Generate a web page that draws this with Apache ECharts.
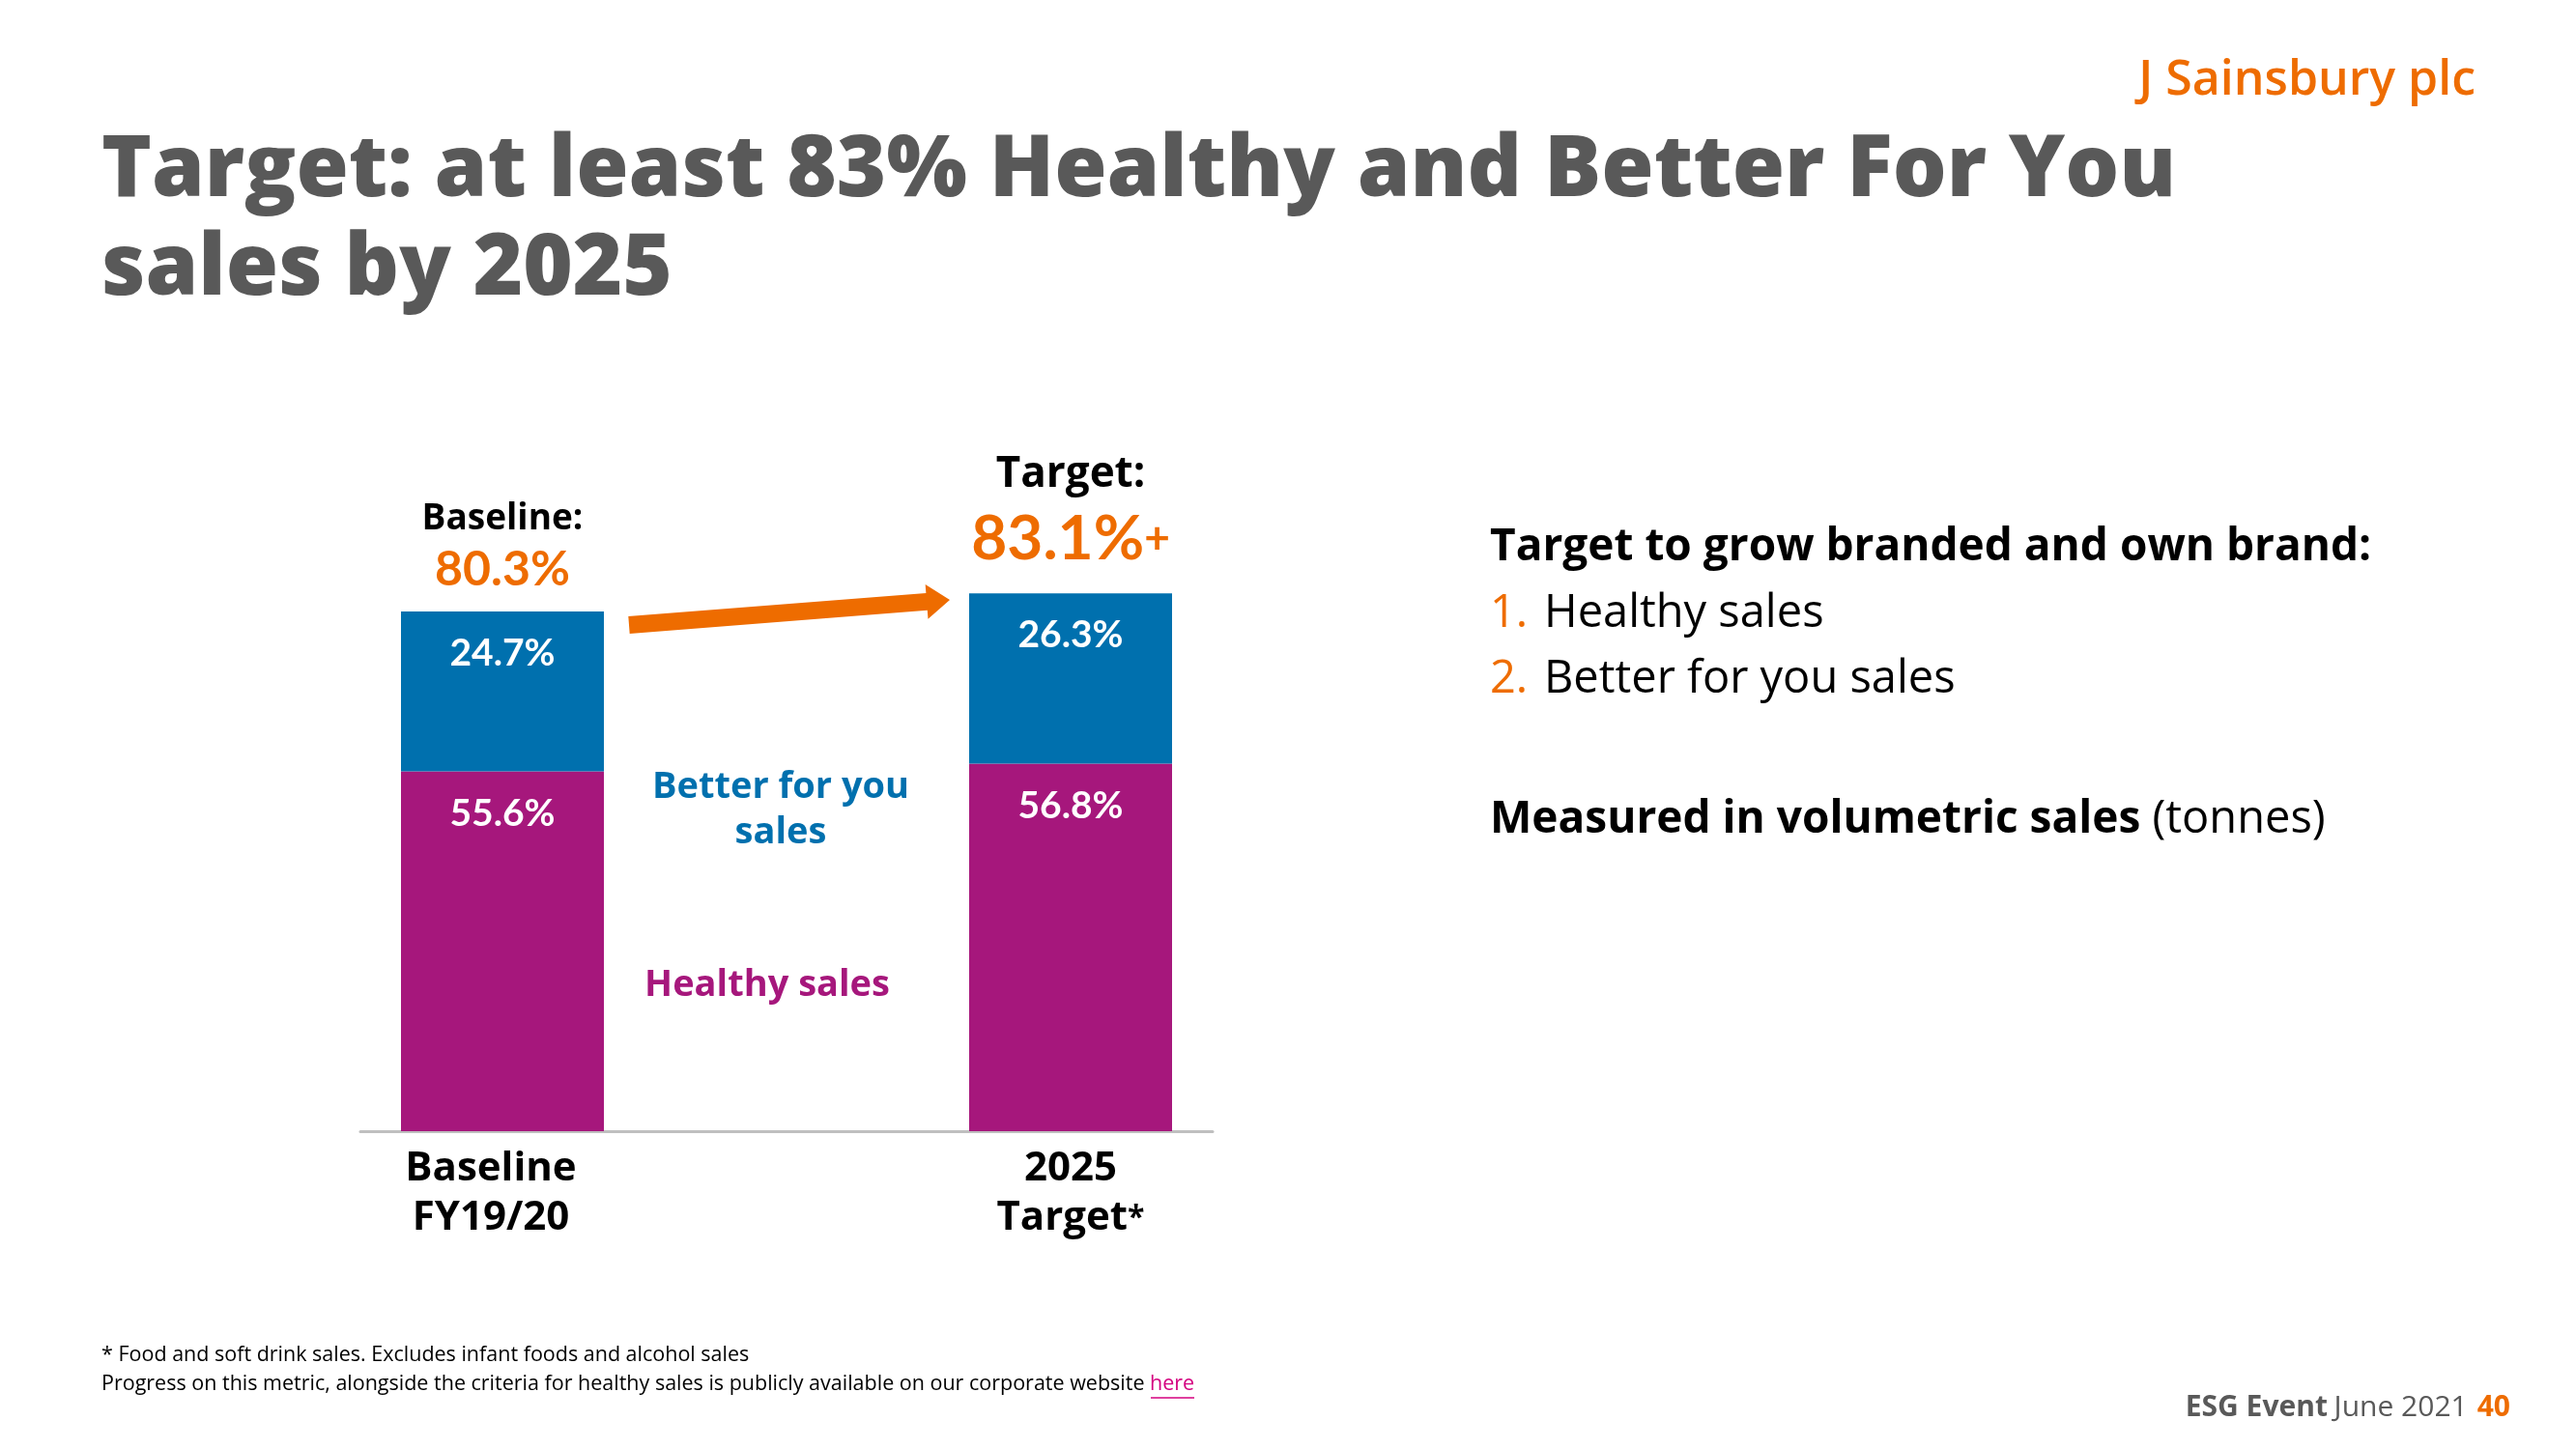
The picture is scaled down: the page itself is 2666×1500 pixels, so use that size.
<!DOCTYPE html>
<html><head><meta charset="utf-8">
<script src="https://cdn.jsdelivr.net/npm/echarts@6/dist/echarts.min.js"></script>
<style>html,body{margin:0;padding:0;background:#fff}#c{width:2666px;height:1500px}</style>
</head><body><div id="c"></div>
<script>
const categories = ['Baseline\nFY19/20', '', '2025\nTarget*'];
const healthySales = [55.6, null, 56.8];
const betterForYouSales = [24.7, null, 26.3];
const totalShare = [80.3, null, 83.1];
const totalHeadings = ['Baseline:', '', 'Target:'];
const totalSuffix = ['', '', '+'];
const seriesNames = ['Healthy sales', 'Better for you sales'];

const BLUE = '#0070AE', MAGENTA = '#A6177C', ORANGE = '#EE6C00', GREY = '#595959';
const FONT = 'Open Sans', NUM = 'Lato';
const dash = v => (v == null ? '-' : v);

const chart = echarts.init(document.getElementById('c'), null, {renderer: 'canvas'});

// arrow geometry (decoration)
const T = [651, 647], P = [983, 621];
const dx = P[0] - T[0], dy = P[1] - T[1], L = Math.hypot(dx, dy);
const u = [dx / L, dy / L], n = [-u[1], u[0]];
const B = [P[0] - 24 * u[0], P[1] - 24 * u[1]];
const pt = (o, k) => [o[0] + k * n[0], o[1] + k * n[1]];
const arrowPts = [pt(T, 9), pt(B, 9), pt(B, 18), P, pt(B, -18), pt(B, -9), pt(T, -9)];

const option = {
  backgroundColor: '#fff',
  animation: false,
  grid: {left: 373, right: 2666 - 1255, top: 501, bottom: 329, containLabel: false},
  xAxis: {
    type: 'category',
    data: categories.map((c, i) => i === 0 ? {value: c, textStyle: {padding: [0, 24, 0, 0]}} : c),
    axisLine: {lineStyle: {color: '#BFBFBF', width: 3}},
    axisTick: {show: false},
    axisLabel: {
      interval: 0, margin: 14, fontFamily: FONT, fontWeight: 'bold', fontSize: 42,
      color: '#000', lineHeight: 51,
      formatter: v => v.replace(/\*$/, '{s|*}'),
      rich: {s: {fontSize: 32, fontWeight: 'bold', fontFamily: FONT, color: '#000', lineHeight: 51}}
    }
  },
  yAxis: {type: 'value', min: 0, max: 100, show: false},
  series: [
    {
      name: seriesNames[0], type: 'bar', stack: 'total', barWidth: 210,
      data: healthySales.map(dash),
      itemStyle: {color: MAGENTA},
      label: {show: true, position: 'insideTop', distance: 24, formatter: '{c}%',
        color: '#fff', fontFamily: NUM, fontWeight: 'bold', fontSize: 39}
    },
    {
      name: seriesNames[1], type: 'bar', stack: 'total', barWidth: 210,
      data: betterForYouSales.map(dash),
      itemStyle: {color: BLUE},
      label: {show: true, position: 'insideTop', distance: 24, formatter: '{c}%',
        color: '#fff', fontFamily: NUM, fontWeight: 'bold', fontSize: 39}
    },
    {
      name: 'Total', type: 'scatter', symbolSize: 0, silent: true,
      itemStyle: {opacity: 1, color: ORANGE},
      data: totalShare.map((v, i) => v == null ? '-' : {
        value: v,
        label: {
          show: true, opacity: 1, position: 'top', distance: i === 0 ? 15 : 19,
          formatter: i === 0 ? '{h|' + totalHeadings[i] + '}\n{v|' + v + '%}'
                             : '{h2|' + totalHeadings[i] + '}\n{v2|' + v + '%}{p|' + totalSuffix[i] + '}',
          rich: {
            h: {fontFamily: FONT, fontWeight: 'bold', fontSize: 37, color: '#000', lineHeight: 50, align: 'center'},
            v: {fontFamily: NUM, fontWeight: 'bold', fontSize: 50, color: ORANGE, lineHeight: 56, align: 'center'},
            h2: {fontFamily: FONT, fontWeight: 'bold', fontSize: 44, color: '#000', lineHeight: 60, align: 'center'},
            v2: {fontFamily: NUM, fontWeight: 'bold', fontSize: 64, color: ORANGE, lineHeight: 74},
            p: {fontFamily: NUM, fontWeight: 'bold', fontSize: 46, color: ORANGE, lineHeight: 74}
          }
        }
      })
    }
  ],
  graphic: [
    {type: 'text', left: 105, top: 127, style: {
      text: 'Target: at least 83% Healthy and Better For You\nsales by 2025',
      fontFamily: FONT, fontWeight: 800, fontSize: 88, lineHeight: 102, fill: GREY}},
    {type: 'text', x: 2562, y: 84, style: {
      text: 'J Sainsbury plc', align: 'right', verticalAlign: 'middle',
      fontFamily: 'Open Sans', fontWeight: 600, fontSize: 50, fill: ORANGE}},
    {type: 'polygon', shape: {points: arrowPts}, style: {fill: ORANGE}},
    {type: 'text', x: 808, y: 839, style: {
      text: 'Better for you\nsales', align: 'center', verticalAlign: 'middle',
      fontFamily: FONT, fontWeight: 'bold', fontSize: 38, lineHeight: 47, fill: BLUE}},
    {type: 'text', x: 794, y: 1020, style: {
      text: 'Healthy sales', align: 'center', verticalAlign: 'middle',
      fontFamily: FONT, fontWeight: 'bold', fontSize: 38, fill: MAGENTA}},
    {type: 'text', x: 1542, y: 567, style: {
      text: 'Target to grow branded and own brand:', verticalAlign: 'middle',
      fontFamily: FONT, fontWeight: 'bold', fontSize: 46, fill: '#000'}},
    {type: 'text', x: 1542, y: 636, style: {
      text: '1.', verticalAlign: 'middle', fontFamily: FONT, fontSize: 47, fill: ORANGE}},
    {type: 'text', x: 1598, y: 636, style: {
      text: 'Healthy sales', verticalAlign: 'middle', fontFamily: FONT, fontSize: 47, fill: '#000'}},
    {type: 'text', x: 1542, y: 704, style: {
      text: '2.', verticalAlign: 'middle', fontFamily: FONT, fontSize: 47, fill: ORANGE}},
    {type: 'text', x: 1598, y: 704, style: {
      text: 'Better for you sales', verticalAlign: 'middle', fontFamily: FONT, fontSize: 47, fill: '#000'}},
    {type: 'text', x: 1542, y: 849, style: {
      text: '{b|Measured in volumetric sales}{r| (tonnes)}', verticalAlign: 'middle',
      rich: {b: {fontFamily: FONT, fontWeight: 'bold', fontSize: 46, fill: '#000'},
             r: {fontFamily: FONT, fontSize: 47, fill: '#000'}}}},
    {type: 'text', x: 105, y: 1403, style: {
      text: '* Food and soft drink sales. Excludes infant foods and alcohol sales', verticalAlign: 'middle',
      fontFamily: FONT, fontSize: 21.5, fill: '#000'}},
    {type: 'text', x: 105, y: 1433, style: {
      text: '{n|Progress on this metric, alongside the criteria for healthy sales is publicly available on our corporate website }{l|here}',
      verticalAlign: 'middle',
      rich: {n: {fontFamily: FONT, fontSize: 21.5, fill: '#000'}, l: {fontFamily: FONT, fontSize: 21.5, fill: '#D4007F'}}}},
    {type: 'line', shape: {x1: 1191, y1: 1447, x2: 1236, y2: 1447}, style: {stroke: '#D4007F', lineWidth: 1.5}},
    {type: 'text', x: 2598, y: 1457, style: {
      text: '{b|ESG Event}  {r|June 2021}   {o|40}', align: 'right', verticalAlign: 'middle',
      rich: {b: {fontFamily: 'Open Sans', fontWeight: 'bold', fontSize: 30, fill: GREY},
             r: {fontFamily: 'Open Sans', fontSize: 30, fill: GREY},
             o: {fontFamily: 'Open Sans', fontWeight: 'bold', fontSize: 30, fill: ORANGE}}}}
  ]
};
chart.setOption(option);
</script></body></html>
